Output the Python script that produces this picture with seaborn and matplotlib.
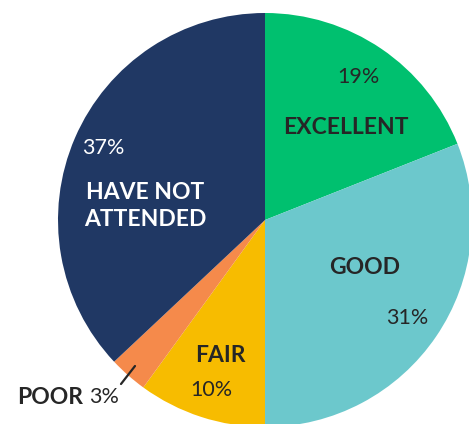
import matplotlib
matplotlib.use('Agg')
import matplotlib.pyplot as plt
import seaborn as sns

# data
categories = ['EXCELLENT', 'GOOD', 'FAIR', 'POOR', 'HAVE NOT\nATTENDED']
shares = [19, 31, 10, 3, 37]
colors = ['#00C06F', '#6CC8CC', '#F7BC00', '#F58A4B', '#203864']

sns.set_theme(style='white')
plt.rcParams['font.family'] = ['Lato', 'DejaVu Sans']

W, H = 469, 424
fig = plt.figure(figsize=(W / 100, H / 100), dpi=100)
ax = fig.add_axes([0, 0, 1, 1])

# pie centre and radius in pixel space
cx, cy, r = 265, H - 220, 207
ax.pie(shares, colors=colors, startangle=90, counterclock=False,
       center=(cx, cy), radius=r, wedgeprops=dict(linewidth=0))

ax.set_xlim(0, W)
ax.set_ylim(0, H)
ax.set_aspect('equal')
ax.axis('off')

dark = '#262626'
lab = dict(fontsize=16.5, fontweight='bold', ha='center', va='center')
pct = dict(fontsize=15.5, ha='center', va='center')

def y(v):
    return H - v

ax.text(358, y(77), f'{shares[0]}%', color=dark, **pct)
ax.text(346, y(128), categories[0], color=dark, **lab)
ax.text(365, y(268), categories[1], color=dark, **lab)
ax.text(407, y(318), f'{shares[1]}%', color=dark, **pct)
ax.text(220, y(356), categories[2], color=dark, **lab)
ax.text(211, y(390), f'{shares[2]}%', color=dark, **pct)
ax.text(103, y(148), f'{shares[4]}%', color='white', **pct)
ax.text(145, y(206), categories[4], color='white', linespacing=1.4, **lab)

# leader line for the small slice
ax.plot([135, 121], [y(366), y(384)], color=dark, lw=1.6)
ax.text(50, y(397), categories[3], color=dark, **lab)
ax.text(104, y(397), f'{shares[3]}%', color=dark, **pct)

fig.savefig('out.png', dpi=100)
